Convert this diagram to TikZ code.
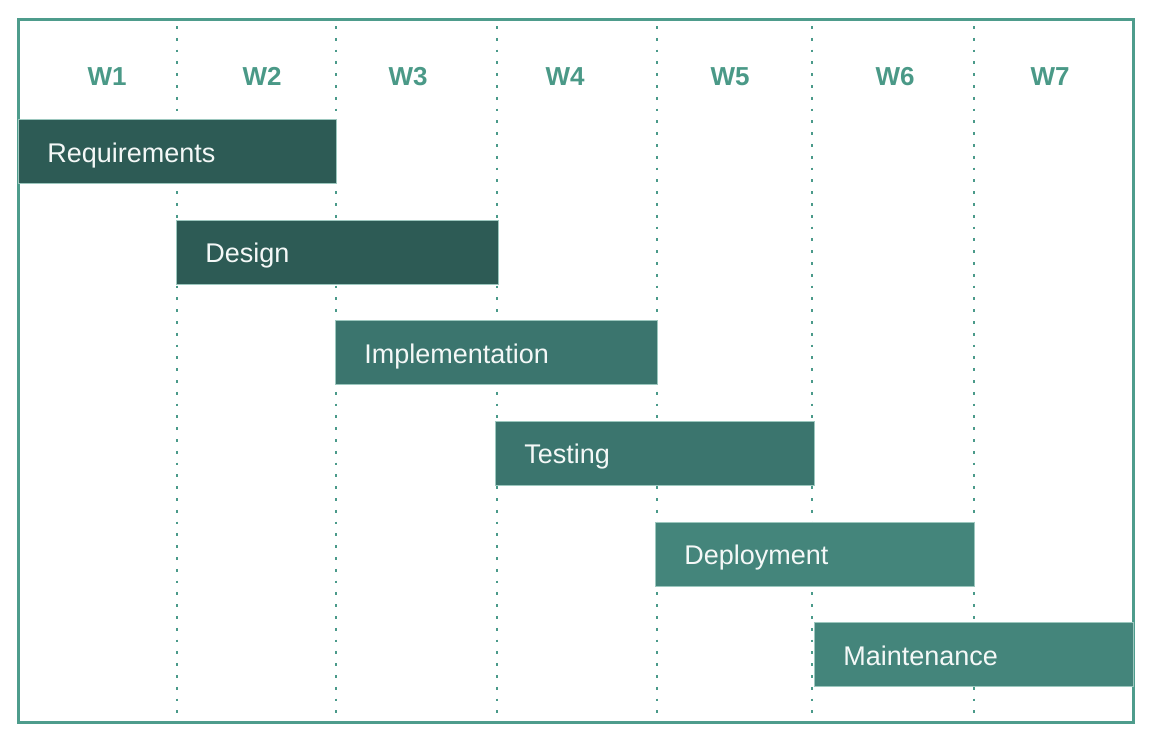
\documentclass[tikz,border=0pt]{standalone}
\usepackage{fontspec}
\setmainfont{Liberation Sans}
\definecolor{framec}{HTML}{4E9C8C}
\definecolor{dotc}{HTML}{4A9A8A}
\definecolor{headc}{HTML}{4A9987}
\definecolor{phaseA}{HTML}{2D5B55}
\definecolor{phaseB}{HTML}{3B756E}
\definecolor{phaseC}{HTML}{44857B}
\definecolor{barline}{HTML}{9CC7BE}
\definecolor{bartext}{HTML}{F4F8F7}
\begin{document}
\begin{tikzpicture}[x=1pt,y=-1pt,
  grid/.style={dotc, line width=2.7pt, dash pattern=on 2.7pt off 9.1pt},
  head/.style={headc, font=\fontsize{26}{30}\selectfont\bfseries, inner sep=0pt, anchor=base},
  bar/.style={draw=barline, line width=0.8pt, anchor=north west, minimum height=64pt,
    inner xsep=29pt, inner ysep=0pt, align=left, text=bartext,
    text height=22pt, text depth=0pt,
    font=\fontsize{27}{32}\selectfont},
]
\useasboundingbox (0,0) rectangle (1152,742);
% outer frame
\draw[framec, line width=3pt] (18,19.5) rectangle (1133,722);
% week separators
\foreach \x/\n in {177/a,336/b,497/c,657/d,812/e,974/f}{
  \coordinate (t\n) at (\x,26);
  \coordinate (b\n) at (\x,718);
  \draw[grid] (t\n) -- (b\n);
}
% week headers
\foreach \x/\w in {107/1,262/2,408/3,565/4,730/5,895/6,1050/7}{
  \node[head] (w\w) at (\x,85) {W\w};
}
% phase bars
\node[bar, fill=phaseA, text width=260pt] (req) at (18,119) {Requirements};
\node[bar, fill=phaseA, text width=264pt] (des) at (176,219.5) {Design};
\node[bar, fill=phaseB, text width=264pt] (imp) at (335,320) {Implementation};
\node[bar, fill=phaseB, text width=261pt] (tst) at (495,420.5) {Testing};
\node[bar, fill=phaseC, text width=261pt] (dep) at (655,521.5) {Deployment};
\node[bar, fill=phaseC, text width=261pt] (mnt) at (814,622) {Maintenance};
\end{tikzpicture}
\end{document}
